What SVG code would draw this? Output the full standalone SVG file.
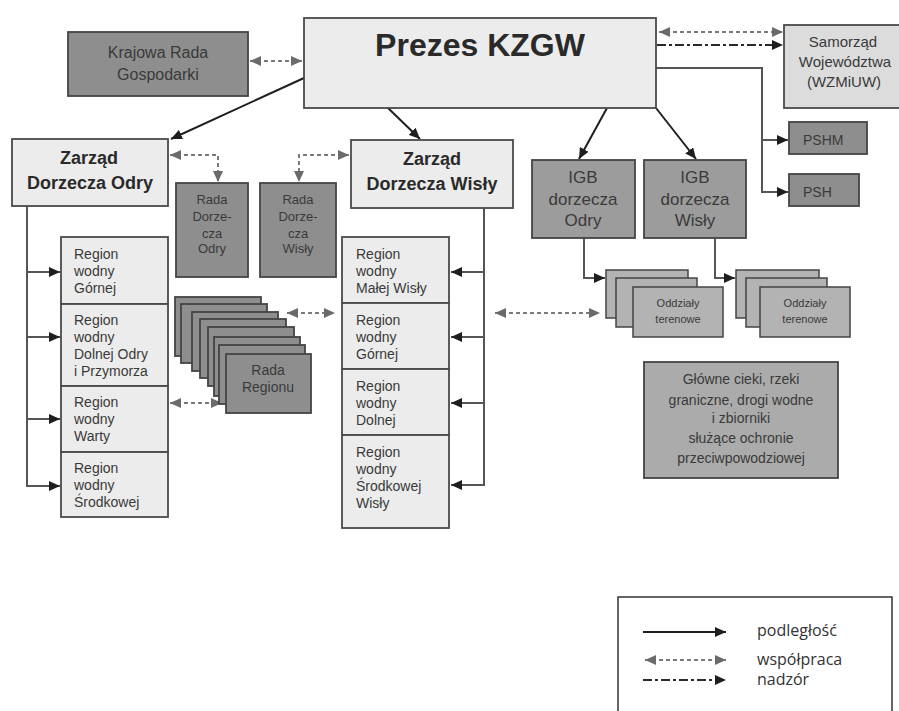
<svg xmlns="http://www.w3.org/2000/svg" width="899" height="711" viewBox="0 0 899 711">
<defs>
<style>
.light{fill:#ececec;stroke:#4a4a4a;stroke-width:1.8}
.mid{fill:#dcdcdc;stroke:#4a4a4a;stroke-width:1.8}
.dark{fill:#8e8e8e;stroke:#444;stroke-width:1.8}
.igb{fill:#9c9c9c;stroke:#444;stroke-width:1.8}
.odd{fill:#b3b3b3;stroke:#444;stroke-width:1.5}
.gl{fill:#ababab;stroke:#444;stroke-width:1.8}
.t{font-family:"Liberation Sans",Arial,sans-serif;fill:#3a3a3a}
.c{text-anchor:middle}
.b{font-weight:bold;fill:#2a2a2a}
.solid{fill:none;stroke:#1e1e1e;stroke-width:2}
.bus{fill:none;stroke:#555;stroke-width:2}
.dot{fill:none;stroke:#7a7a7a;stroke-width:2;stroke-dasharray:4 3}
.dd{fill:none;stroke:#2a2a2a;stroke-width:2;stroke-dasharray:9 3 3 3}
.leg{font-family:"Open Sans","Noto Sans",sans-serif;font-size:16px;fill:#333}
</style>
<marker id="ah" markerUnits="userSpaceOnUse" markerWidth="12" markerHeight="10" refX="11" refY="5" orient="auto"><path d="M0,0 L11,5 L0,10 Z" fill="#1e1e1e"/></marker>
<marker id="ag" markerUnits="userSpaceOnUse" markerWidth="12" markerHeight="10" refX="11" refY="5" orient="auto-start-reverse"><path d="M0,0 L11,5 L0,10 Z" fill="#6a6a6a"/></marker>
</defs>
<rect width="899" height="711" fill="#fff"/>

<g id="connectors">
<path class="solid" d="M304,78 L171,139" marker-end="url(#ah)"/>
<path class="solid" d="M388,108 L420,139" marker-end="url(#ah)"/>
<path class="solid" d="M607,108 L579,159" marker-end="url(#ah)"/>
<path class="solid" d="M656,108 L696,159" marker-end="url(#ah)"/>
<path class="bus" d="M656,68 L762,68 L762,192 L788,192" marker-end="url(#ah)"/>
<path class="bus" d="M762,140 L788,140" marker-end="url(#ah)"/>
<path class="dot" d="M659,32 L783,32" marker-start="url(#ag)" marker-end="url(#ag)"/>
<path class="dd" d="M657,45 L783,45" marker-end="url(#ah)"/>
<path class="dot" d="M250,61 L302,61" marker-start="url(#ag)" marker-end="url(#ag)"/>
<path class="dot" d="M170,155 L218,155 L218,182" marker-start="url(#ag)" marker-end="url(#ag)"/>
<path class="dot" d="M349,155 L299,155 L299,182" marker-start="url(#ag)" marker-end="url(#ag)"/>
<path class="bus" d="M27,206 L27,486 L60,486" marker-end="url(#ah)"/>
<path class="bus" d="M27,272 L60,272" marker-end="url(#ah)"/>
<path class="bus" d="M27,337 L60,337" marker-end="url(#ah)"/>
<path class="bus" d="M27,419 L60,419" marker-end="url(#ah)"/>
<path class="bus" d="M484,208 L484,485 L451,485" marker-end="url(#ah)"/>
<path class="bus" d="M484,272 L451,272" marker-end="url(#ah)"/>
<path class="bus" d="M484,337 L451,337" marker-end="url(#ah)"/>
<path class="bus" d="M484,403 L451,403" marker-end="url(#ah)"/>
<path class="dot" d="M170,403 L222,403" marker-start="url(#ag)" marker-end="url(#ag)"/>
<path class="dot" d="M287,313 L335,313" marker-start="url(#ag)" marker-end="url(#ag)"/>
<path class="dot" d="M495,313 L600,313" marker-start="url(#ag)" marker-end="url(#ag)"/>
<path class="bus" d="M584,238 L584,278 L605,278" marker-end="url(#ah)"/>
<path class="bus" d="M715,238 L715,278 L735,278" marker-end="url(#ah)"/>
</g>

<g id="prezes">
<rect class="light" x="304" y="18" width="352" height="90"/>
<text class="t c b" x="480" y="56" font-size="32">Prezes KZGW</text>
</g>
<g id="krajowa-rada">
<rect class="dark" x="68" y="32" width="180" height="64"/>
<text class="t c" x="158" y="58" font-size="16">Krajowa Rada</text>
<text class="t c" x="158" y="80" font-size="16">Gospodarki</text>
</g>
<g id="samorzad">
<rect class="mid" x="784" y="25" width="120" height="83"/>
<text class="t c" x="843" y="47" font-size="15">Samorząd</text>
<text class="t c" x="845" y="67" font-size="15">Województwa</text>
<text class="t c" x="844" y="87" font-size="15">(WZMiUW)</text>
</g>
<g id="pshm">
<rect class="dark" x="789" y="122" width="78" height="32"/>
<text class="t" x="803" y="145" font-size="14">PSHM</text>
</g>
<g id="psh">
<rect class="dark" x="789" y="174" width="70" height="32"/>
<text class="t" x="803" y="197" font-size="14">PSH</text>
</g>
<g id="zarzad-odry">
<rect class="light" x="12" y="139" width="156" height="67"/>
<text class="t c b" x="89" y="164" font-size="18">Zarząd</text>
<text class="t c b" x="90" y="189" font-size="18">Dorzecza Odry</text>
</g>
<g id="zarzad-wisly">
<rect class="light" x="351" y="140" width="162" height="68"/>
<text class="t c b" x="432" y="165" font-size="18">Zarząd</text>
<text class="t c b" x="432" y="190" font-size="18">Dorzecza Wisły</text>
</g>
<g id="rada-dorzecza-odry">
<rect class="dark" x="176" y="183" width="72" height="94"/>
<text class="t c" x="212" y="204" font-size="13">Rada</text>
<text class="t c" x="212" y="221" font-size="13">Dorze-</text>
<text class="t c" x="212" y="238" font-size="13">cza</text>
<text class="t c" x="212" y="253" font-size="13">Odry</text>
</g>
<g id="rada-dorzecza-wisly">
<rect class="dark" x="260" y="183" width="76" height="94"/>
<text class="t c" x="298" y="204" font-size="13">Rada</text>
<text class="t c" x="298" y="221" font-size="13">Dorze-</text>
<text class="t c" x="298" y="238" font-size="13">cza</text>
<text class="t c" x="298" y="253" font-size="13">Wisły</text>
</g>
<g id="igb-odry">
<rect class="igb" x="532" y="160" width="103" height="78"/>
<text class="t c" x="583" y="183" font-size="17">IGB</text>
<text class="t c" x="583" y="205" font-size="17">dorzecza</text>
<text class="t c" x="583" y="226" font-size="17">Odry</text>
</g>
<g id="igb-wisly">
<rect class="igb" x="644" y="160" width="102" height="78"/>
<text class="t c" x="695" y="183" font-size="17">IGB</text>
<text class="t c" x="695" y="205" font-size="17">dorzecza</text>
<text class="t c" x="695" y="226" font-size="17">Wisły</text>
</g>
<g id="regiony-odry">
<rect class="light" x="61" y="237" width="107" height="67"/>
<rect class="light" x="61" y="304" width="107" height="82"/>
<rect class="light" x="61" y="386" width="107" height="66"/>
<rect class="light" x="61" y="452" width="107" height="65"/>
<g class="t" font-size="14">
<text x="74" y="259">Region</text><text x="74" y="276">wodny</text><text x="74" y="293">Górnej</text>
<text x="74" y="325">Region</text><text x="74" y="342">wodny</text><text x="74" y="359">Dolnej Odry</text><text x="74" y="376">i Przymorza</text>
<text x="74" y="407">Region</text><text x="74" y="424">wodny</text><text x="74" y="441">Warty</text>
<text x="74" y="473">Region</text><text x="74" y="490">wodny</text><text x="74" y="507">Środkowej</text>
</g>
</g>
<g id="regiony-wisly">
<rect class="light" x="342" y="237" width="107" height="66"/>
<rect class="light" x="342" y="303" width="107" height="66"/>
<rect class="light" x="342" y="369" width="107" height="66"/>
<rect class="light" x="342" y="435" width="107" height="93"/>
<g class="t" font-size="14">
<text x="356" y="259">Region</text><text x="356" y="276">wodny</text><text x="356" y="293">Małej Wisły</text>
<text x="356" y="325">Region</text><text x="356" y="342">wodny</text><text x="356" y="359">Górnej</text>
<text x="356" y="391">Region</text><text x="356" y="408">wodny</text><text x="356" y="425">Dolnej</text>
<text x="356" y="457">Region</text><text x="356" y="474">wodny</text><text x="356" y="491">Środkowej</text><text x="356" y="508">Wisły</text>
</g>
</g>
<g id="rada-regionu">
<rect class="dark" x="175" y="297" width="86" height="59"/>
<rect class="dark" x="181" y="304" width="86" height="59"/>
<rect class="dark" x="192" y="312" width="86" height="59"/>
<rect class="dark" x="200" y="319" width="86" height="59"/>
<rect class="dark" x="208" y="327" width="86" height="59"/>
<rect class="dark" x="214" y="337" width="86" height="59"/>
<rect class="dark" x="219" y="345" width="86" height="59"/>
<rect class="dark" x="226" y="354" width="85" height="59"/>
<text class="t c" x="268" y="375" font-size="14">Rada</text>
<text class="t c" x="268" y="392" font-size="14">Regionu</text>
</g>
<g id="oddzialy-odry">
<rect class="odd" x="606" y="270" width="82" height="48"/>
<rect class="odd" x="616" y="278" width="81" height="49"/>
<rect class="odd" x="633" y="287" width="90" height="50"/>
<text class="t c" x="678" y="307" font-size="11">Oddziały</text>
<text class="t c" x="678" y="323" font-size="11">terenowe</text>
</g>
<g id="oddzialy-wisly">
<rect class="odd" x="736" y="270" width="83" height="48"/>
<rect class="odd" x="746" y="278" width="81" height="49"/>
<rect class="odd" x="760" y="287" width="90" height="50"/>
<text class="t c" x="805" y="307" font-size="11">Oddziały</text>
<text class="t c" x="805" y="323" font-size="11">terenowe</text>
</g>
<g id="glowne-cieki">
<rect class="gl" x="644" y="362" width="194" height="116"/>
<g class="t c" font-size="14">
<text x="741" y="384">Główne cieki, rzeki</text>
<text x="741" y="405">graniczne, drogi wodne</text>
<text x="741" y="423">i zbiorniki</text>
<text x="741" y="443">służące ochronie</text>
<text x="741" y="463">przeciwpowodziowej</text>
</g>
</g>
<g id="legend">
<rect x="618" y="597" width="274" height="130" fill="#fff" stroke="#333" stroke-width="1.5"/>
<path class="solid" d="M643,632 L726,632" marker-end="url(#ah)"/>
<path class="dot" d="M645,660 L726,660" marker-start="url(#ag)" marker-end="url(#ag)"/>
<path class="dd" d="M643,680 L726,680" marker-end="url(#ah)"/>
<text class="leg" x="757" y="636">podległość</text>
<text class="leg" x="757" y="665">współpraca</text>
<text class="leg" x="757" y="685">nadzór</text>
</g>
</svg>
